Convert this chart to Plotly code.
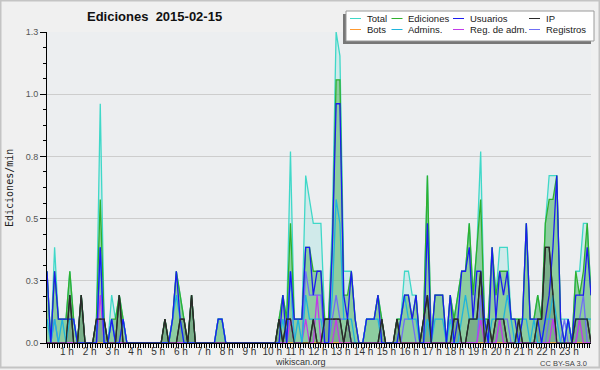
import plotly.graph_objects as go

# ---- data: counts per 10-minute bin (144 bins, 00:00 -> 23:50) ----
BIN_MINUTES = 10
total = [3,0,4,1,1,1, 3,1,0,2,0,0, 0,1,10,1,0,2, 1,2,1,0,0,0, 0,0,0,0,0,0, 0,1,0,1,3,2,
         1,0,2,0,0,0, 0,0,0,1,1,0, 0,0,0,0,0,0, 0,0,0,0,0,0, 0,1,2,1,8,1, 1,1,7,6,5,5,
         5,1,1,5,13,12, 3,3,3,1,0,0, 1,1,1,2,1,0, 0,0,1,1,3,3, 2,2,0,1,7,0, 2,2,2,0,2,1,
         2,3,3,5,2,4, 8,1,1,4,2,4, 4,4,1,1,1,1, 5,1,1,2,1,5, 7,7,7,1,1,1, 0,3,3,5,5,2]
ediciones = [3,0,3,1,1,1, 3,1,0,2,0,0, 0,1,6,1,0,1, 1,2,1,0,0,0, 0,0,0,0,0,0, 0,1,0,1,3,2,
             1,0,2,0,0,0, 0,0,0,1,1,0, 0,0,0,0,0,0, 0,0,0,0,0,0, 0,1,2,1,5,1, 1,1,4,4,3,3,
             3,1,1,4,11,11, 2,2,3,1,0,0, 1,1,1,2,1,0, 0,0,1,1,2,2, 1,2,0,1,7,0, 2,2,2,0,2,1,
             2,3,3,5,2,4, 6,1,1,4,2,3, 3,3,1,1,1,1, 5,1,1,2,1,5, 6,6,7,1,0,1, 0,3,2,3,5,2]
usuarios = [3,0,3,1,1,1, 1,1,0,0,0,0, 0,0,4,0,0,1, 0,0,1,0,0,0, 0,0,0,0,0,0, 0,0,0,1,3,1,
            0,0,0,0,0,0, 0,0,0,1,1,0, 0,0,0,0,0,0, 0,0,0,0,0,0, 0,0,2,0,3,1, 1,1,4,4,2,3,
            3,0,0,4,10,10, 2,1,3,1,0,0, 1,1,1,2,0,0, 0,0,0,1,2,2, 1,2,0,0,5,0, 2,2,2,0,2,0,
            1,3,3,4,1,3, 3,1,0,4,1,3, 2,3,1,1,0,1, 5,1,1,1,0,1, 2,4,7,1,0,1, 0,2,2,2,4,2]
ip = [0,0,0,0,0,0, 2,0,0,2,0,0, 0,1,1,1,0,0, 0,2,0,0,0,0, 0,0,0,0,0,0, 0,1,0,0,0,1,
      1,0,2,0,0,0, 0,0,0,0,0,0, 0,0,0,0,0,0, 0,0,0,0,0,0, 0,1,0,1,1,0, 0,0,0,0,1,0,
      0,1,1,1,1,1, 0,1,0,0,0,0, 0,0,0,0,1,0, 0,0,1,0,0,0, 0,0,0,1,2,0, 0,0,0,0,0,1,
      1,0,0,1,1,1, 3,0,1,0,1,1, 1,0,0,0,1,0, 0,0,0,1,1,4, 4,2,0,0,0,0, 0,1,1,1,1,0]
bots = [0] * 144
admins = [1,0,1,0,1,0, 1,1,0,0,0,0, 0,0,4,0,0,1, 0,0,1,0,0,0, 0,0,0,0,0,0, 0,0,0,1,2,1,
          0,0,0,0,0,0, 0,0,0,1,1,0, 0,0,0,0,0,0, 0,0,0,0,0,0, 0,0,1,0,3,0, 1,0,2,1,1,1,
          1,0,0,2,6,5, 1,1,1,0,0,0, 1,1,1,1,0,0, 0,0,0,1,2,1, 1,1,0,0,1,0, 1,1,1,0,1,0,
          0,1,2,1,1,1, 1,1,0,1,1,1, 1,2,1,0,0,1, 1,0,1,0,0,1, 1,2,1,0,0,1, 0,1,1,1,1,1]
reg_adm = [0,0,0,0,0,0, 0,0,0,0,0,0, 0,0,2,0,0,0, 0,0,0,0,0,0, 0,0,0,0,0,0, 0,0,0,0,0,0,
           0,0,0,0,0,0, 0,0,0,0,0,0, 0,0,0,0,0,0, 0,0,0,0,0,0, 0,0,0,0,1,0, 0,0,1,0,0,2,
           0,0,0,0,1,0, 0,0,0,0,0,0, 0,0,0,0,0,0, 0,0,0,0,0,0, 0,0,0,0,0,0, 0,0,0,0,0,0,
           0,0,0,0,0,0, 1,0,0,0,0,1, 0,0,0,0,0,0, 0,0,0,0,0,0, 0,1,0,0,0,0, 0,0,1,0,0,0]
registros = [0,0,1,0,0,0, 0,0,0,0,0,0, 0,0,4,0,0,1, 0,0,0,0,0,0, 0,0,0,0,0,0, 0,0,0,0,0,0,
             0,0,0,0,0,0, 0,0,0,0,0,0, 0,0,0,0,0,0, 0,0,0,0,0,0, 0,0,0,0,3,0, 0,0,3,2,2,2,
             2,0,0,1,2,1, 1,1,0,0,0,0, 0,0,0,0,0,0, 0,0,0,0,1,1, 1,0,0,0,0,0, 0,0,0,0,0,0,
             0,0,0,0,0,0, 2,0,0,0,0,1, 1,1,0,0,0,0, 0,0,0,0,0,0, 1,1,0,0,1,0, 0,0,1,2,0,0]

hour_labels = [f"{h} h" for h in range(1, 24)]
y_tickvals = [0, 0.26, 0.52, 0.78, 1.04, 1.3]
y_ticktext = ["0.0", "0.3", "0.5", "0.8", "1.0", "1.3"]

legend_names = ["Total", "Ediciones", "Usuarios", "IP",
                "Bots", "Admins.", "Reg. de adm.", "Registros"]
colors = {"Total": "#3fd8c8", "Ediciones": "#2fb02f", "Usuarios": "#1c1cf0", "IP": "#2a2a2a",
          "Bots": "#ff9a30", "Admins.": "#1fb4dc", "Reg. de adm.": "#c23be8", "Registros": "#6f6ff5"}

x = [i / 6 for i in range(len(total))]  # hours
rate = lambda arr: [v / BIN_MINUTES for v in arr]

fig = go.Figure()
def add(name, arr, fill=None, fillcolor=None, width=1.3):
    fig.add_trace(go.Scatter(x=x, y=rate(arr), mode="lines", name=name,
                             line=dict(color=colors[name], width=width),
                             fill=fill, fillcolor=fillcolor, showlegend=False))

add("Total", total, "tozeroy", "rgba(64,220,205,0.16)")
add("Ediciones", ediciones, "tozeroy", "rgba(60,170,70,0.45)")
add("IP", ip, "tozeroy", "rgba(40,40,40,0.18)")
add("Bots", bots)
add("Registros", registros)
add("Reg. de adm.", reg_adm)
add("Admins.", admins)
add("Usuarios", usuarios)
add("IP", ip, width=1.2)

# pixel -> paper helpers
L, R, T, B, W, H = 47, 9, 32, 27, 600, 370
PW, PH = W - L - R, H - T - B
px = lambda v: (v - L) / PW
py = lambda v: (H - B - v) / PH

shapes = []
annotations = []
# frame
shapes.append(dict(type="rect", xref="paper", yref="paper", x0=px(0.5), x1=px(599.5),
                   y0=py(0.5), y1=py(367.5), line=dict(color="#c4c4c4", width=2), layer="below"))
# legend box with shadow
shapes.append(dict(type="rect", xref="paper", yref="paper", x0=px(343), x1=px(591),
                   y0=py(14), y1=py(44), fillcolor="#777777", line=dict(width=0)))
shapes.append(dict(type="rect", xref="paper", yref="paper", x0=px(346), x1=px(594),
                   y0=py(11), y1=py(41), fillcolor="white", line=dict(color="#9a9a9a", width=1)))
col_line = [350, 391.5, 453, 529]
col_text = [365, 406, 468, 544]
row_y = [18.5, 29.5]
for k, name in enumerate(legend_names):
    r, c = divmod(k, 4)
    shapes.append(dict(type="line", xref="paper", yref="paper",
                       x0=px(col_line[c]), x1=px(col_line[c] + 11), y0=py(row_y[r]), y1=py(row_y[r]),
                       line=dict(color=colors[name], width=1)))
    annotations.append(dict(x=px(col_text[c]), y=py(row_y[r]), xref="paper", yref="paper",
                            text=name, showarrow=False, xanchor="left", yanchor="middle",
                            font=dict(family="Liberation Sans", size=9.5, color="#1a1a1a")))

annotations += [
    dict(x=px(154), y=py(16), xref="paper", yref="paper", text="<b>Ediciones\u00a0\u00a02015-02-15</b>",
         showarrow=False, xanchor="center", yanchor="middle",
         font=dict(family="Liberation Sans", size=13, color="#111")),
    dict(x=px(9), y=py(188), xref="paper", yref="paper", text="Ediciones/min", textangle=-90,
         showarrow=False, xanchor="center", yanchor="middle",
         font=dict(family="DejaVu Sans Mono", size=10, color="#222")),
    dict(x=px(300), y=py(362), xref="paper", yref="paper", text="wikiscan.org",
         showarrow=False, xanchor="center", yanchor="middle",
         font=dict(family="Liberation Sans", size=9, color="#333")),
    dict(x=px(589), y=py(363), xref="paper", yref="paper", text="CC BY-SA 3.0",
         showarrow=False, xanchor="right", yanchor="middle",
         font=dict(family="Liberation Sans", size=7.5, color="#444")),
]

fig.update_layout(
    width=W, height=H, margin=dict(l=L, r=R, t=T, b=B, pad=0),
    paper_bgcolor="#f0f0f0", plot_bgcolor="#eceef0",
    showlegend=False, shapes=shapes, annotations=annotations,
    xaxis=dict(range=[0, x[-1]], tickmode="array", tickvals=list(range(1, 24)), ticktext=hour_labels,
               ticks="outside", ticklen=4, tickcolor="black", tickwidth=1,
               minor=dict(tick0=0, dtick=1/9, ticks="outside", ticklen=4, tickcolor="black", showgrid=False),
               showline=True, linecolor="black", linewidth=1, showgrid=False, zeroline=False,
               tickfont=dict(family="Liberation Sans", size=10, color="#333"),
               ticklabelshift=-3, ticklabelstandoff=-5),
    yaxis=dict(range=[0, 1.3], tickmode="array", tickvals=y_tickvals, ticktext=y_ticktext,
               ticks="outside", ticklen=6, tickcolor="black", tickwidth=1,
               minor=dict(tick0=0, dtick=0.065, ticks="outside", ticklen=3, tickcolor="black", showgrid=False),
               showline=True, linecolor="black", linewidth=1, showgrid=True, gridcolor="#cdcdcd",
               zeroline=False, tickfont=dict(family="Liberation Sans", size=9, color="#555")),
)
fig.write_html("out.html")
